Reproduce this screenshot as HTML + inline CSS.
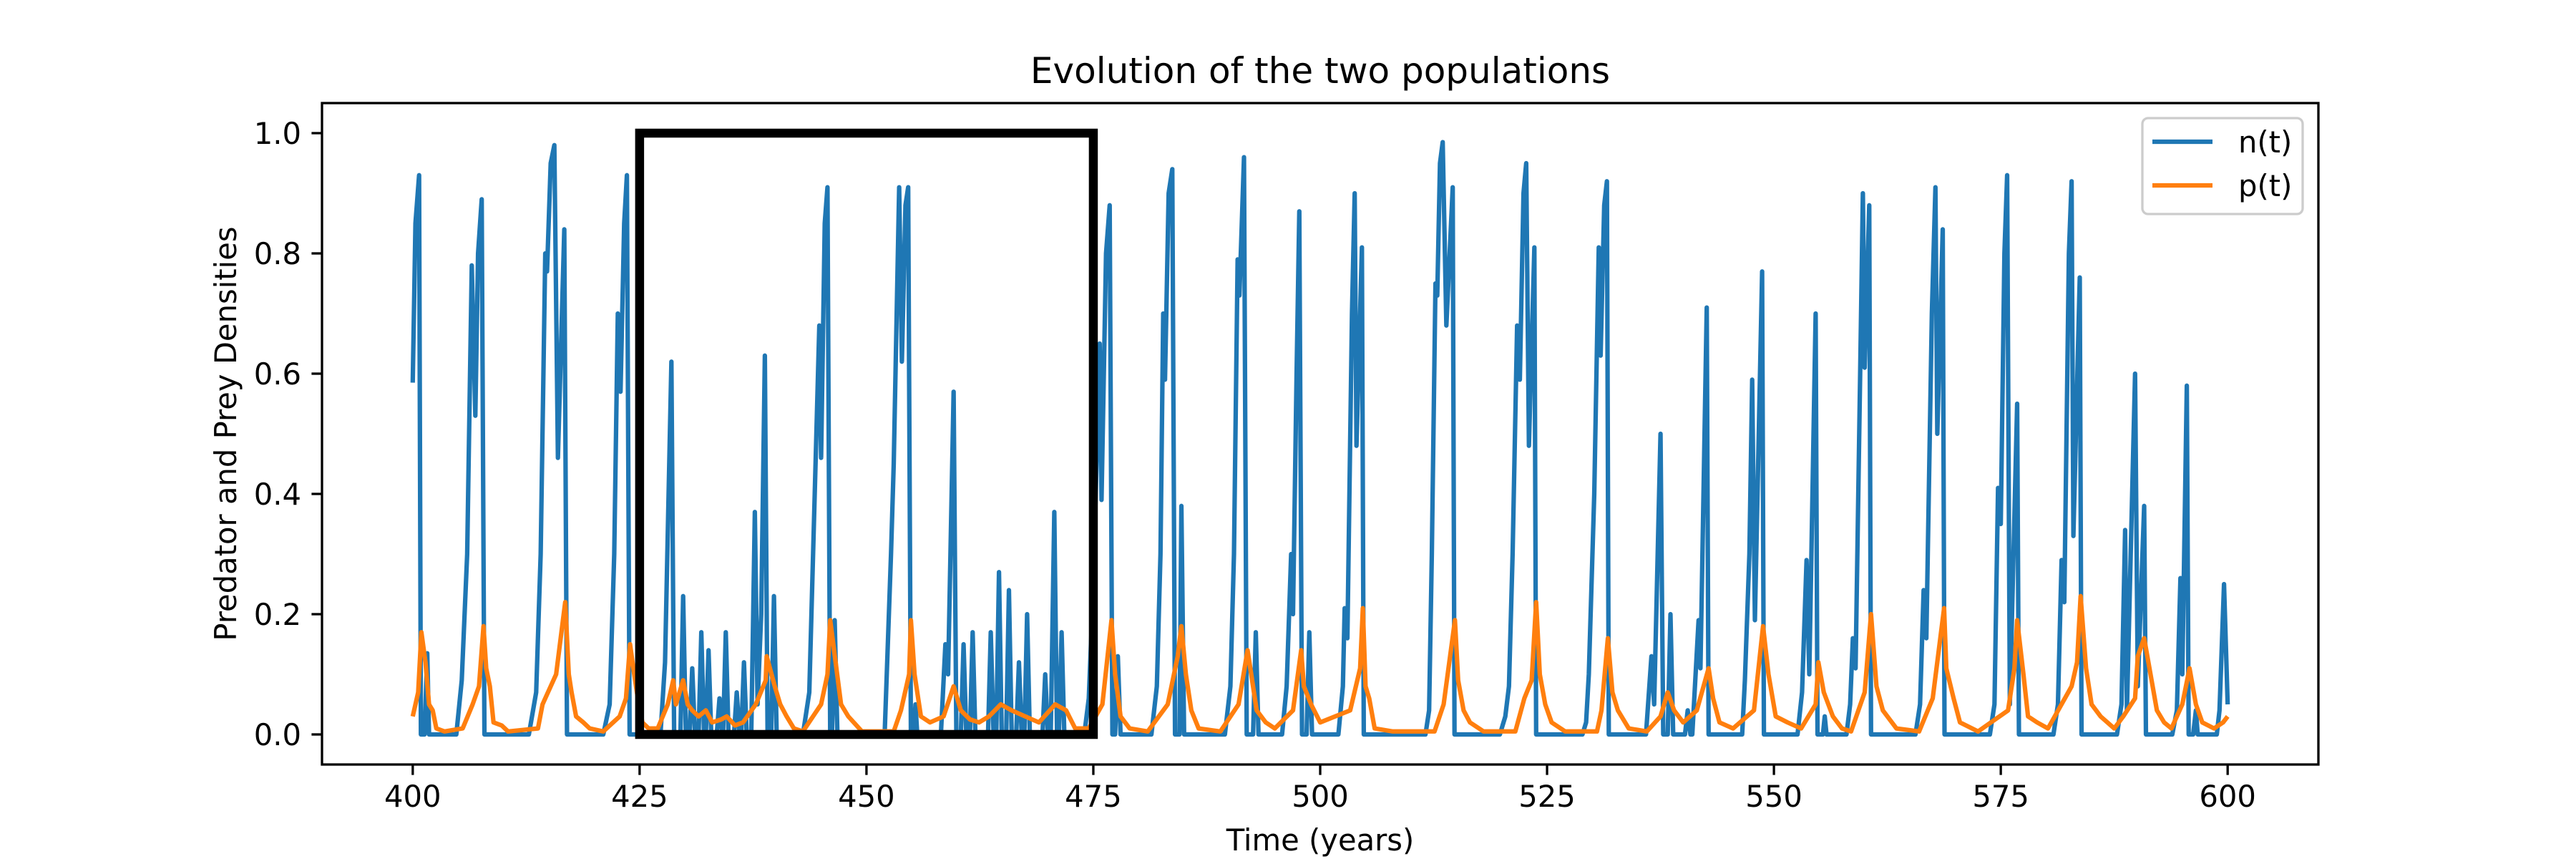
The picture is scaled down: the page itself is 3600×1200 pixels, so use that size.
<!DOCTYPE html>
<html><head><meta charset="utf-8"><style>
html,body{margin:0;padding:0;background:#fff;}
svg{display:block;font-family:"DejaVu Sans","Liberation Sans",sans-serif;}
</style></head><body>
<svg id="chart" width="3600" height="1200" viewBox="0 0 3600 1200" xmlns="http://www.w3.org/2000/svg">
<rect width="3600" height="1200" fill="#fff"/>
<text x="1845" y="116" font-size="50" text-anchor="middle">Evolution of the two populations</text>
<text x="1845" y="1188" font-size="41.7" text-anchor="middle">Time (years)</text>
<text x="0" y="0" font-size="41.7" text-anchor="middle" transform="translate(330,606) rotate(-90)">Predator and Prey Densities</text>
<g id="plot"></g>
<rect x="450" y="144" width="2790" height="924" fill="none" stroke="#000" stroke-width="3.3"/>
<g>
<rect x="2994" y="165" width="224" height="134" rx="8" fill="#fff" fill-opacity="0.8" stroke="#ccc" stroke-width="3.3"/>
<line x1="3008" y1="198" x2="3092" y2="198" stroke="#1f77b4" stroke-width="6.25"/>
<text x="3128" y="213" font-size="41.7">n(t)</text>
<line x1="3008" y1="259" x2="3092" y2="259" stroke="#ff7f0e" stroke-width="6.25"/>
<text x="3128" y="274" font-size="41.7">p(t)</text>
</g>
</svg>
<script>
const xTicks = [400, 425, 450, 475, 500, 525, 550, 575, 600];
const yTicks = [0.0, 0.2, 0.4, 0.6, 0.8, 1.0];
const yTickLabels = ["0.0", "0.2", "0.4", "0.6", "0.8", "1.0"];
const nT = [400.0,400.3,400.7,400.9,401.3,401.6,401.8,404.8,405.4,406.0,406.5,406.9,407.2,407.6,407.9,412.8,413.6,414.1,414.6,414.8,415.2,415.6,416.0,416.7,417.0,421.0,421.7,422.2,422.6,422.9,423.3,423.6,423.9,427.3,427.8,428.5,428.8,429.5,429.8,430.1,430.5,430.8,431.1,431.5,431.8,432.1,432.3,432.6,432.9,433.5,433.8,434.1,434.2,434.5,434.8,435.4,435.7,436.0,436.2,436.5,436.8,437.3,437.7,438.0,438.4,438.8,439.1,439.5,439.8,440.1,443.0,443.7,444.3,444.8,445.0,445.4,445.7,446.0,446.2,446.5,446.8,452.0,452.7,453.0,453.6,453.9,454.3,454.6,454.9,455.2,455.4,455.6,458.2,458.7,459.0,459.6,459.9,460.4,460.7,461.0,461.4,461.7,462.0,463.4,463.7,464.0,464.3,464.6,464.9,465.4,465.7,466.0,466.5,466.8,467.1,467.4,467.7,468.0,469.4,469.7,470.0,470.3,470.7,471.0,471.2,471.5,471.8,474.0,474.5,475.0,475.7,475.9,476.4,476.8,477.1,477.4,477.7,478.0,481.4,482.0,482.4,482.7,482.9,483.3,483.7,484.0,484.5,484.7,485.0,489.5,490.1,490.5,490.9,491.1,491.6,491.9,492.6,492.9,493.2,495.8,496.3,496.8,497.0,497.4,497.7,498.0,498.5,498.8,499.1,502.0,502.5,502.7,503.0,503.5,503.8,504.0,504.6,504.8,511.6,512.0,512.3,512.7,512.9,513.2,513.5,513.9,514.6,514.8,519.8,520.4,520.8,521.2,521.7,522.0,522.4,522.7,523.0,523.6,523.8,528.9,529.3,529.6,530.2,530.7,530.9,531.3,531.6,531.8,535.9,536.5,536.8,537.5,537.8,538.3,538.6,538.9,540.2,540.5,540.8,541.0,541.7,541.9,542.6,542.8,546.5,546.8,547.3,547.6,547.9,548.7,548.9,552.6,553.1,553.6,553.9,554.6,554.8,555.4,555.6,555.8,558.0,558.4,558.7,559.0,559.5,559.8,560.0,560.5,560.7,565.6,566.1,566.5,566.8,567.4,567.8,568.0,568.6,568.8,573.8,574.3,574.7,575.0,575.4,575.7,576.0,576.8,577.0,580.8,581.3,581.7,582.0,582.5,582.8,583.0,583.7,583.9,587.8,588.3,588.7,588.9,589.8,590.1,590.8,591.0,593.9,594.4,594.8,595.0,595.5,595.7,596.2,596.5,596.7,598.8,599.1,599.6,600.0];
const nV = [0.585,0.85,0.93,0,0,0.135,0,0,0.09,0.3,0.78,0.53,0.8,0.89,0,0,0.07,0.3,0.8,0.77,0.95,0.98,0.46,0.84,0,0,0.05,0.3,0.7,0.57,0.85,0.93,0,0,0.12,0.62,0,0,0.23,0,0,0.11,0,0,0.17,0,0,0.14,0,0,0.06,0,0,0.17,0,0,0.07,0,0,0.12,0,0,0.37,0.05,0.2,0.63,0,0,0.23,0,0,0.07,0.4,0.68,0.46,0.85,0.91,0,0,0.19,0,0,0.3,0.45,0.91,0.62,0.88,0.91,0,0,0.05,0,0,0.15,0.1,0.57,0,0,0.15,0,0,0.17,0,0,0.17,0,0,0.27,0,0,0.24,0,0,0.12,0,0,0.2,0,0,0.1,0,0,0.37,0,0,0.17,0,0,0.06,0.25,0.65,0.39,0.8,0.88,0,0,0.13,0,0,0.08,0.3,0.7,0.59,0.9,0.94,0,0,0.38,0,0,0.08,0.3,0.79,0.73,0.96,0,0,0.17,0,0,0.08,0.3,0.2,0.6,0.87,0,0,0.17,0,0,0.08,0.21,0.16,0.7,0.9,0.48,0.81,0,0,0.04,0.3,0.75,0.73,0.95,0.985,0.68,0.91,0,0,0.03,0.08,0.3,0.68,0.59,0.9,0.95,0.48,0.81,0,0,0.02,0.1,0.4,0.81,0.63,0.88,0.92,0,0,0.13,0.05,0.5,0,0,0.2,0,0,0.04,0,0,0.19,0.11,0.71,0,0,0.09,0.3,0.59,0.19,0.77,0,0,0.07,0.29,0.1,0.7,0,0,0.03,0,0,0.05,0.16,0.11,0.6,0.9,0.61,0.88,0,0,0.05,0.24,0.16,0.7,0.91,0.5,0.84,0,0,0.05,0.41,0.35,0.8,0.93,0.05,0.55,0,0,0.05,0.29,0.22,0.8,0.92,0.33,0.76,0,0,0.05,0.34,0.04,0.6,0.08,0.38,0,0,0.04,0.26,0.1,0.58,0,0,0.04,0,0,0.04,0.25,0.05];
const pT = [400,400.6,400.95,401.4,401.8,402.2,402.6,403.5,405.5,406.6,407.3,407.8,408.1,408.5,408.9,409.8,410.5,413.8,414.3,415.8,416.8,417.2,417.5,418,418.8,419.5,421,422.8,423.5,423.95,424.4,424.7,425.3,426,427,428.1,428.7,429.0,429.8,430.3,430.8,431.5,432.3,433,434,434.6,435.5,436.4,437.8,438.9,439.0,439.9,440.5,441.2,442,443,445,445.7,446.0,446.6,447.2,448,449.5,453,453.8,454.7,454.9,455.3,456,457,458.5,459.6,460.4,461.4,462.4,463.5,464.8,466,467.5,469,470.8,472,473,474.5,476,477.0,477.4,478,479,481,483.2,484.3,484.7,485.2,485.8,486.6,489,491,492.0,492.4,493,494,495,497,497.9,498.2,499,500,503.3,504.4,504.7,505,505.4,506,508,512.6,513.6,514.85,515.2,515.8,516.5,518,521.5,522.5,523.3,523.8,524.2,524.8,525.5,527,530.5,531,531.7,532.2,532.8,534,536,537.5,538.3,539,540,541.5,542.8,543.3,544,545.5,547.8,548.8,549.4,550.2,551.5,553,554.6,554.9,555.5,556.5,557.5,558.5,560,560.7,561.3,562,563.5,566,567.5,568.75,569,569.8,570.5,572.5,575.8,576.5,576.8,577.5,578,579,580.2,582.8,583.4,583.8,584.4,585,586,587.5,588.5,589.8,590.1,590.8,591.5,592.2,593,593.8,595,595.8,596.5,597.2,598.5,599.5,600];
const pV = [0.03,0.07,0.17,0.12,0.05,0.04,0.01,0.005,0.01,0.05,0.08,0.18,0.11,0.08,0.02,0.015,0.005,0.01,0.05,0.1,0.22,0.1,0.07,0.03,0.02,0.01,0.005,0.03,0.06,0.15,0.1,0.07,0.02,0.01,0.01,0.05,0.09,0.05,0.09,0.05,0.04,0.03,0.04,0.02,0.025,0.03,0.015,0.02,0.05,0.09,0.13,0.08,0.05,0.03,0.01,0.005,0.05,0.1,0.19,0.12,0.05,0.03,0.005,0.005,0.04,0.1,0.19,0.1,0.03,0.02,0.03,0.08,0.04,0.025,0.02,0.03,0.05,0.04,0.03,0.02,0.05,0.04,0.01,0.01,0.05,0.19,0.1,0.03,0.01,0.005,0.05,0.13,0.18,0.1,0.04,0.01,0.005,0.05,0.14,0.1,0.04,0.02,0.01,0.04,0.14,0.08,0.05,0.02,0.04,0.11,0.21,0.08,0.06,0.01,0.005,0.005,0.05,0.19,0.09,0.04,0.02,0.005,0.005,0.06,0.09,0.22,0.1,0.05,0.02,0.005,0.005,0.04,0.16,0.07,0.04,0.01,0.005,0.03,0.07,0.04,0.02,0.04,0.11,0.06,0.02,0.01,0.04,0.18,0.1,0.03,0.02,0.01,0.05,0.12,0.07,0.03,0.01,0.005,0.07,0.2,0.08,0.04,0.01,0.005,0.06,0.21,0.11,0.06,0.02,0.005,0.04,0.11,0.19,0.1,0.03,0.02,0.01,0.08,0.12,0.23,0.11,0.05,0.03,0.01,0.03,0.06,0.13,0.16,0.1,0.04,0.02,0.01,0.05,0.11,0.05,0.02,0.01,0.02,0.03];
const boxRange = [425, 475, 0, 1];

const L = 450, R = 3240, T = 144, B = 1068;
const X0 = 390, X1 = 610, Y0 = -0.05, Y1 = 1.05;
function xs(t) { return L + (t - X0) / (X1 - X0) * (R - L); }
function ys(v) { return B - (v - Y0) / (Y1 - Y0) * (B - T); }
const NS = "http://www.w3.org/2000/svg";
const g = document.getElementById('plot');
function mk(tag, attrs) { const e = document.createElementNS(NS, tag); for (const k in attrs) e.setAttribute(k, attrs[k]); return e; }

xTicks.forEach(function (t) {
  const ln = mk('line', { x1: xs(t), x2: xs(t), y1: B, y2: B + 14.6, stroke: '#000', 'stroke-width': 3.3 });
  
  
  g.appendChild(ln);
  const tx = mk('text', { x: xs(t), y: B + 59, 'font-size': 41.7, 'text-anchor': 'middle' });
  
  
  tx.textContent = String(t);
  g.appendChild(tx);
});
yTicks.forEach(function (v, i) {
  const ln = mk('line', { x1: L - 14.6, x2: L, y1: ys(v), y2: ys(v), stroke: '#000', 'stroke-width': 3.3 });
  
  
  g.appendChild(ln);
  const tx = mk('text', { x: L - 29, y: ys(v) + 15, 'font-size': 41.7, 'text-anchor': 'end' });
  
  
  tx.textContent = yTickLabels[i];
  g.appendChild(tx);
});
function pts(T_, V_) { return T_.map(function (t, i) { return xs(t).toFixed(1) + ',' + ys(V_[i]).toFixed(1); }).join(' '); }
const nl = mk('polyline', { points: pts(nT, nV), fill: 'none', stroke: '#1f77b4', 'stroke-width': 6.25, 'stroke-linejoin': 'round' });


g.appendChild(nl);
const pl = mk('polyline', { points: pts(pT, pV), fill: 'none', stroke: '#ff7f0e', 'stroke-width': 6.25, 'stroke-linejoin': 'round' });


g.appendChild(pl);
const bx = mk('rect', { x: xs(boxRange[0]), y: ys(boxRange[3]), width: xs(boxRange[1]) - xs(boxRange[0]), height: ys(boxRange[2]) - ys(boxRange[3]), fill: 'none', stroke: '#000', 'stroke-width': 12.5 });


g.appendChild(bx);
</script>
</body></html>
